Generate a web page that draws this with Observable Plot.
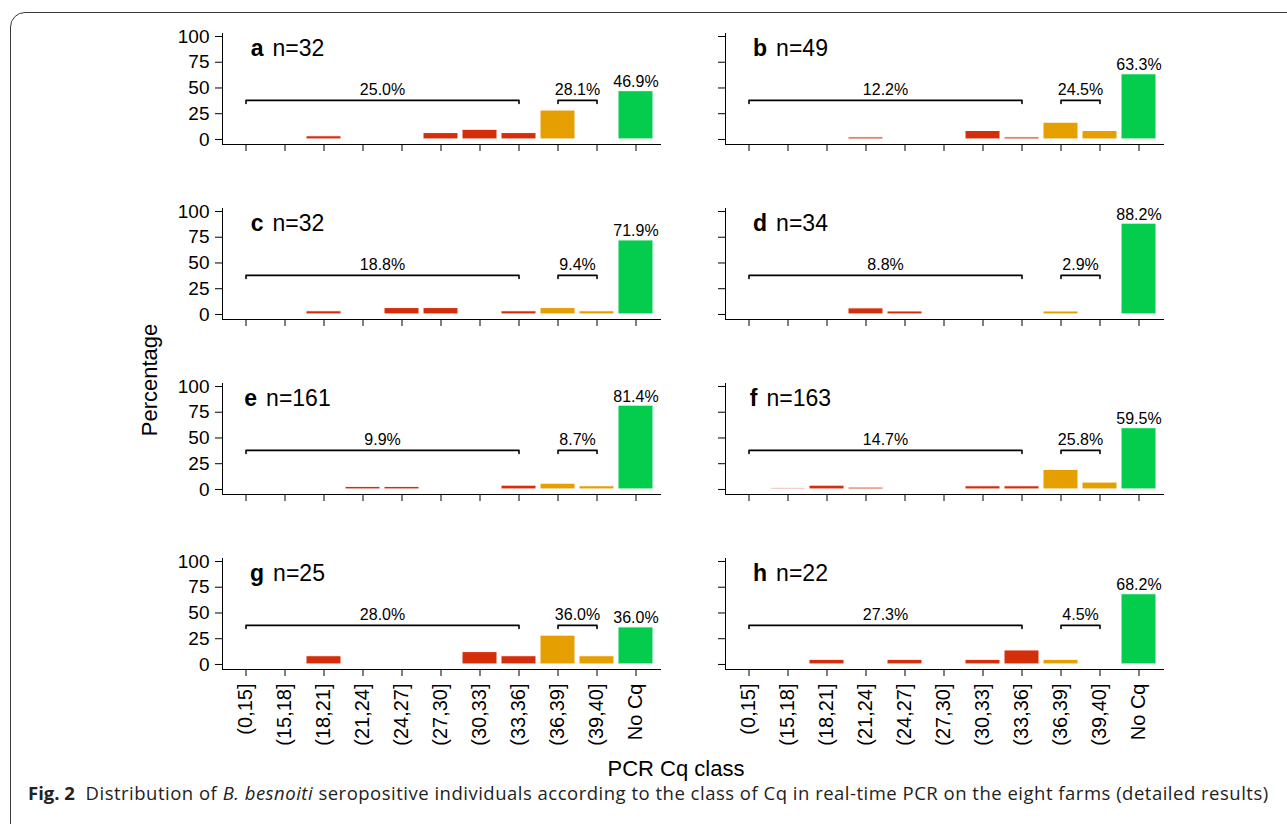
<!DOCTYPE html>
<html><head><meta charset="utf-8">
<script src="https://cdn.jsdelivr.net/npm/d3@7"></script>
<script src="https://cdn.jsdelivr.net/npm/@observablehq/plot@0.6"></script>
<style>
html,body{margin:0;padding:0;background:#fff;width:1287px;height:824px;overflow:hidden;}
#root{position:relative;width:1287px;height:824px;font-family:"Liberation Sans",Arial,sans-serif;color:#000;}
.panel{position:absolute;}
.panel g[aria-label="x-axis tick label"] text{font-size:20px;}
#frame{position:absolute;left:10px;top:12px;width:1400px;height:900px;border:1.2px solid #3a3a3a;border-radius:15px;box-sizing:border-box;}
#ytitle{position:absolute;left:150px;top:380px;transform:translate(-50%,-50%) rotate(-90deg);font-size:22px;line-height:1;white-space:nowrap;}
#xtitle{position:absolute;left:676px;top:769px;transform:translate(-50%,-50%);font-size:22px;line-height:1;white-space:nowrap;}
#caption{position:absolute;left:28px;top:784px;font-family:"Open Sans",sans-serif;font-size:18.5px;letter-spacing:0.5px;line-height:1;color:#222;white-space:nowrap;}
#caption b{font-weight:700;letter-spacing:0;}
</style>
</head><body>
<div id="root">
  <div id="frame"></div>
  <div id="ytitle">Percentage</div>
  <div id="xtitle">PCR Cq class</div>
  <div id="caption"><b>Fig. 2</b>&nbsp; Distribution of <i>B. besnoiti</i> seropositive individuals according to the class of Cq in real-time PCR on the eight farms (detailed results)</div>
</div>
<script>
// ---------- data ----------
const categories = ["(0,15]","(15,18]","(18,21]","(21,24]","(24,27]","(27,30]","(30,33]","(33,36]","(36,39]","(39,40]","No Cq"];
const categoryGroup = ["cqLow","cqLow","cqLow","cqLow","cqLow","cqLow","cqLow","cqLow","cqHigh","cqHigh","noCq"];
const groups = ["cqLow","cqHigh","noCq"];
const groupColors = ["#D42E0A","#E69F00","#04CC4C"];
const panelIds = ["a","b","c","d","e","f","g","h"];
const panelN = [32,49,32,34,161,163,25,22];
const valuesA = [0,0,3.1,0,0,6.2,9.4,6.2,28.1,0,46.9];
const valuesB = [0,0,0,2.0,0,0,8.2,2.0,16.3,8.2,63.3];
const valuesC = [0,0,3.1,0,6.2,6.2,0,3.1,6.2,3.1,71.9];
const valuesD = [0,0,0,5.9,2.9,0,0,0,2.9,0,88.2];
const valuesE = [0,0,0.6,2.5,2.5,0.6,0,3.7,5.6,3.1,81.4];
const valuesF = [0.6,1.2,3.7,1.8,0.6,0.6,3.1,3.1,19.0,6.7,59.5];
const valuesG = [0,0,8,0,0,0,12,8,28,8,36];
const valuesH = [0,0,4.5,0,4.5,0,4.5,13.6,4.5,0,68.2];
const redTotals = [25.0,12.2,18.8,8.8,9.9,14.7,28.0,27.3];
const orangeTotals = [28.1,24.5,9.4,2.9,8.7,25.8,36.0,4.5];
const yTicks = [0,25,50,75,100];
// bracket spans (category from -> to) and the category left of each bracket midpoint
const bracketFrom = ["(0,15]","(36,39]"];
const bracketTo = ["(33,36]","(39,40]"];
const bracketMidLeft = ["(21,24]","(36,39]"];
const bracketY = 38, bracketHookY = 35, bracketLabelY = 43.5, panelLabelY = 81.5;

const allValues = [valuesA,valuesB,valuesC,valuesD,valuesE,valuesF,valuesG,valuesH];

// ---------- layout ----------
const FONT = '"Liberation Sans", Arial, sans-serif';
const colLeft = [160, 663];
const rowTop = [25, 200, 375, 550];
const W = 505, ML = 62, MR = 5, MT = 8, INNER_H = 111;
const step = (W - ML - MR) / 11.2;

const canvas = document.createElement("canvas");
const ctx = canvas.getContext("2d");
function textW(txt, font){ ctx.font = font; return ctx.measureText(txt).width; }

const root = document.getElementById("root");

panelIds.forEach((pid, i) => {
  const row = Math.floor(i/2), col = i % 2;
  const bottom = row === 3;
  const H = bottom ? 200 : 175;
  const vals = allValues[i];
  const bars = categories.map((c, k) => ({cat: c, value: vals[k], group: categoryGroup[k]})).filter(d => d.value > 0);
  const green = [{cat: categories[10], value: vals[10]}];

  const brackets = [];
  bracketFrom.forEach((f, k) => {
    brackets.push({b: k, cat: f, y: bracketHookY});
    brackets.push({b: k, cat: f, y: bracketY});
    brackets.push({b: k, cat: bracketTo[k], y: bracketY});
    brackets.push({b: k, cat: bracketTo[k], y: bracketHookY});
  });
  const bracketLabels = [
    {cat: bracketMidLeft[0], text: redTotals[i].toFixed(1) + "%"},
    {cat: bracketMidLeft[1], text: orangeTotals[i].toFixed(1) + "%"}
  ];

  // panel label "x  n=NN" centered
  const nText = "n=" + panelN[i];
  const wL = textW(pid, "bold 23px " + FONT);
  const wN = textW(nText, "23px " + FONT);
  const gap = 9;
  const startDx = 41.5 - (wL + gap + wN) / 2;

  const chart = Plot.plot({
    width: W, height: H,
    marginLeft: ML, marginRight: MR, marginTop: MT, marginBottom: H - MT - INNER_H,
    style: {fontFamily: FONT, fontSize: "19px", background: "none", color: "#000", overflow: "visible"},
    x: {type: "band", domain: categories, paddingInner: 0.1, paddingOuter: 0.15, align: 0.5,
        tickSize: 7, tickPadding: 7, line: true, label: null,
        tickRotate: bottom ? -90 : 0, tickFormat: bottom ? (d => d) : (() => "")},
    y: {domain: [-4.9, 102.9], ticks: yTicks, tickSize: 7, tickPadding: 6, line: true, label: null,
        tickFormat: col === 0 ? (d => d) : (() => "")},
    color: {type: "ordinal", domain: groups, range: groupColors},
    marks: [
      Plot.barY(bars, {x: "cat", y: "value", fill: "group", stroke: "white", strokeWidth: 1}),
      Plot.line(brackets, {x: "cat", y: "y", z: "b", stroke: "#000", strokeWidth: 1.6, curve: "linear"}),
      Plot.text(bracketLabels, {x: "cat", y: () => bracketLabelY, text: "text", dx: step / 2, lineAnchor: "bottom", fontSize: 16, fill: "#000"}),
      Plot.text(green, {x: "cat", y: "value", text: d => d.value.toFixed(1) + "%", dy: -4, lineAnchor: "bottom", fontSize: 16, fill: "#000"}),
      Plot.text([pid], {x: () => categories[0], y: () => panelLabelY, text: d => d, dx: startDx, textAnchor: "start", lineAnchor: "bottom", fontSize: 23, fontWeight: "bold", fill: "#000"}),
      Plot.text([nText], {x: () => categories[0], y: () => panelLabelY, text: d => d, dx: startDx + wL + gap, textAnchor: "start", lineAnchor: "bottom", fontSize: 23, fill: "#000"})
    ]
  });
  chart.classList.add("panel");
  chart.style.left = colLeft[col] + "px";
  chart.style.top = rowTop[row] + "px";
  root.appendChild(chart);
});
</script>
</body></html>
